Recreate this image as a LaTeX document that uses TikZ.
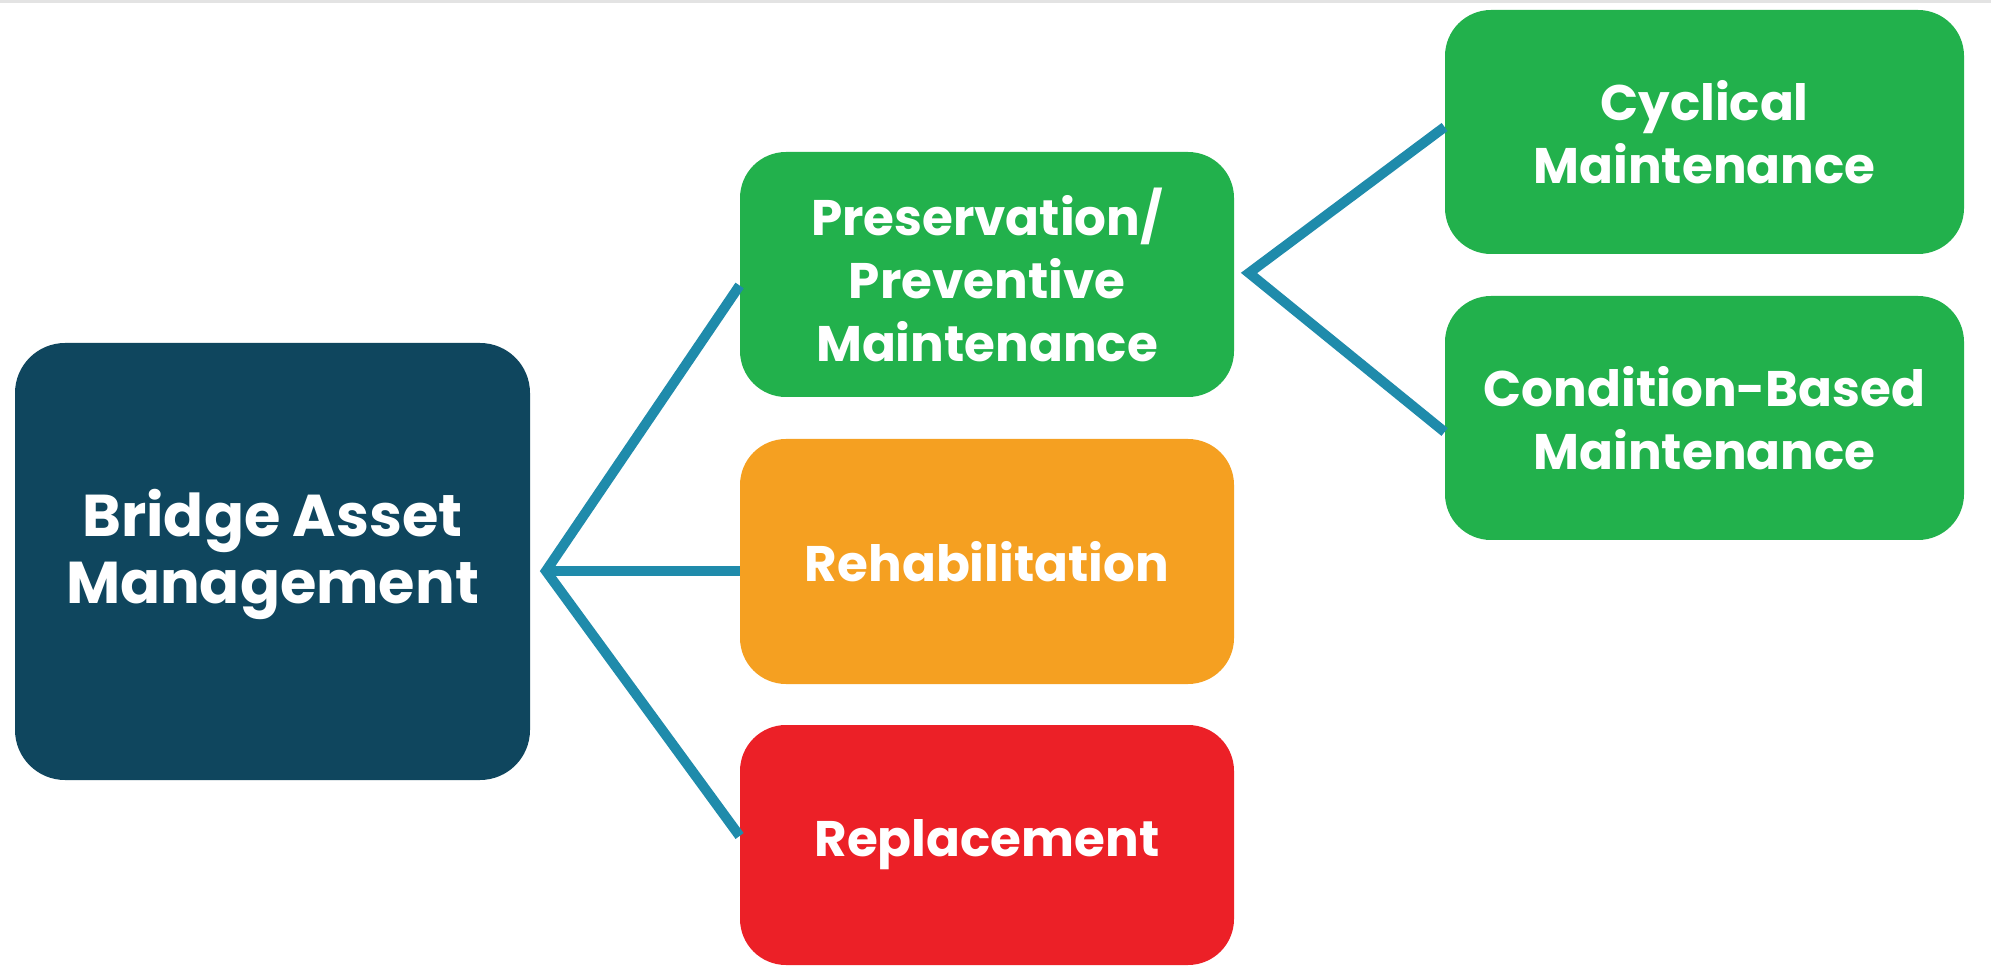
\documentclass[tikz,border=0pt]{standalone}
\usepackage{fontspec}
\setmainfont{Poppins}
\usetikzlibrary{calc}
\definecolor{darkblue}{HTML}{0F465E}
\definecolor{boxgreen}{HTML}{22B14C}
\definecolor{boxorange}{HTML}{F5A021}
\definecolor{boxred}{HTML}{EC2027}
\definecolor{linkblue}{HTML}{1F8BAB}
\definecolor{topband}{HTML}{E3E3E3}
\begin{document}
\begin{tikzpicture}[x=0.5pt,y=-0.5pt,
  box/.style={rounded corners=23pt, align=center, text=white, inner sep=0pt,
    font=\bfseries\fontsize{25}{31.5}\selectfont},
  midbox/.style={box, minimum width=247pt, minimum height=122.5pt},
  rightbox/.style={box, fill=boxgreen, minimum width=259.5pt, minimum height=122pt},
  conn/.style={draw=linkblue, line width=5pt, line join=miter}]
\useasboundingbox (0,0) rectangle (1991,967);
\fill[white] (0,0) rectangle (1991,967);
\fill[topband] (0,0) rectangle (1991,3);

\node[box, fill=darkblue, minimum width=257.5pt, minimum height=218.5pt,
  rounded corners=25pt] (bam) at (272.5,561.5) {};
\node[text=white, align=center, inner sep=0pt,
  font=\bfseries\fontsize{29.5}{33.5}\selectfont] (bamtext)
  at ($(bam.center)+(0,-7)$) {Bridge Asset\\Management};
\node[midbox, fill=boxgreen] (pres) at (987,274.5)
  {Preservation/\\Preventive\\Maintenance};
\node[midbox, fill=boxorange] (rehab) at (987,561.5) {Rehabilitation};
\node[midbox, fill=boxred, minimum height=120pt] (repl) at (987,845) {Replacement};
\node[rightbox] (cyc) at (1704.5,132) {Cyclical\\Maintenance};
\node[rightbox] (cond) at (1704.5,418) {Condition-Based\\Maintenance};

\coordinate (root1) at (546,571);
\coordinate (root2) at (1249,273);

\draw[conn] ($(pres.west)+(0,11)$) -- (root1) -- ($(repl.west)+(0,-9)$);
\draw[conn] (root1) -- ($(rehab.west)+(0,9.5)$);
\draw[conn] ($(cyc.west)+(0,-5)$) -- (root2) -- ($(cond.west)+(0,14)$);
\end{tikzpicture}
\end{document}
